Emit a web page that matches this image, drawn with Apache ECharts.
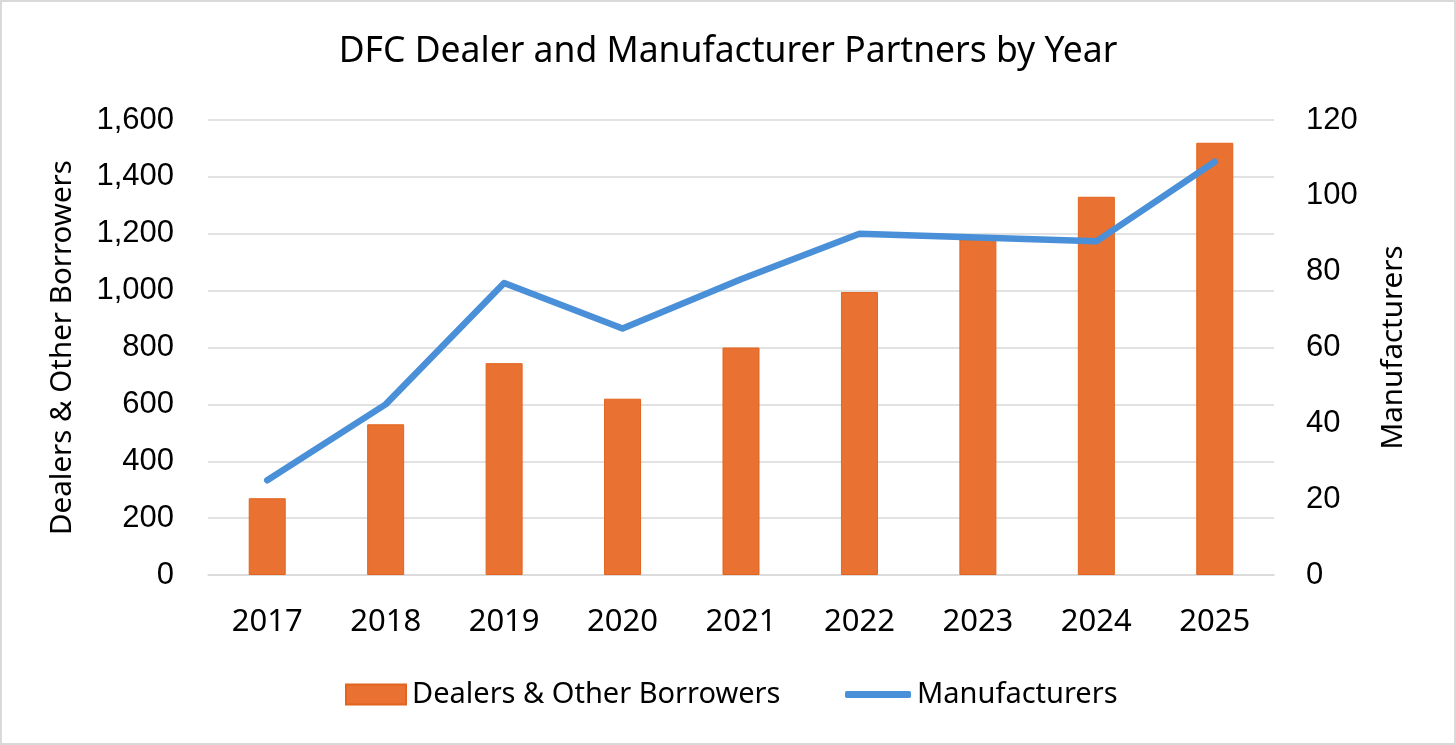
<!DOCTYPE html>
<html>
<head>
<meta charset="utf-8">
<script src="https://cdn.jsdelivr.net/npm/echarts@6/dist/echarts.min.js"></script>
<style>
html,body{margin:0;padding:0;background:#fff;}
#chart{width:1456px;height:745px;box-sizing:border-box;border:2px solid #D9D9D9;}
</style>
</head>
<body>
<div id="chart"></div>
<script>
const categories = ['2017','2018','2019','2020','2021','2022','2023','2024','2025'];
const dealers = [270, 530, 745, 620, 800, 995, 1180, 1330, 1520];
const manufacturers = [25, 45, 77, 65, 78, 90, 89, 88, 109];
const leftTicks = {min: 0, max: 1600, interval: 200};
const rightTicks = {min: 0, max: 120, interval: 20};

const chart = echarts.init(document.getElementById('chart'), null, {renderer: 'canvas'});
const textFont = 'Noto Sans';
const tickFont = 'Liberation Sans';
const legendText = {fontFamily: textFont, fontSize: 29, color: '#000', padding: [0,0,0,1]};
chart.setOption({
  animation: false,
  backgroundColor: '#fff',
  title: {
    text: 'DFC Dealer and Manufacturer Partners by Year',
    left: 'center',
    top: 27,
    textStyle: {fontFamily: textFont, fontSize: 35.5, fontWeight: 'normal', color: '#000'}
  },
  legend: [
    {
      top: 673,
      left: 338,
      itemWidth: 60,
      itemHeight: 20,
      textStyle: legendText,
      data: [{name: 'Dealers & Other Borrowers', icon: 'rect'}]
    },
    {
      top: 673,
      left: 838,
      itemWidth: 66,
      itemHeight: 7,
      textStyle: legendText,
      data: [{name: 'Manufacturers', icon: 'roundRect', itemStyle: {color: '#4A90D9'}}]
    }
  ],
  grid: {left: 206, right: 180, top: 118, bottom: 168, containLabel: false},
  xAxis: {
    type: 'category',
    data: categories,
    axisLine: {show: true, lineStyle: {color: '#D9D9D9', width: 1.5}},
    axisTick: {show: false},
    axisLabel: {fontFamily: textFont, fontSize: 31, color: '#000', margin: 32}
  },
  yAxis: [
    {
      type: 'value',
      min: leftTicks.min, max: leftTicks.max, interval: leftTicks.interval,
      name: 'Dealers & Other Borrowers',
      nameLocation: 'middle',
      nameGap: 130,
      nameTextStyle: {fontFamily: textFont, fontSize: 29.5, color: '#000'},
      axisLine: {show: false},
      axisTick: {show: false},
      splitLine: {lineStyle: {color: '#D9D9D9', width: 1.5}},
      axisLabel: {
        fontFamily: tickFont, fontSize: 31, color: '#000', margin: 34,
        formatter: v => v.toLocaleString('en-US')
      }
    },
    {
      type: 'value',
      min: rightTicks.min, max: rightTicks.max, interval: rightTicks.interval,
      name: 'Manufacturers',
      nameLocation: 'middle',
      nameGap: 105,
      nameTextStyle: {fontFamily: textFont, fontSize: 29.5, color: '#000'},
      axisLine: {show: false},
      axisTick: {show: false},
      splitLine: {show: false},
      axisLabel: {fontFamily: tickFont, fontSize: 31, color: '#000', margin: 32}
    }
  ],
  series: [
    {
      name: 'Dealers & Other Borrowers',
      type: 'bar',
      yAxisIndex: 0,
      data: dealers,
      barWidth: 37,
      itemStyle: {color: '#E97132', borderColor: '#E2641F', borderWidth: 1}
    },
    {
      name: 'Manufacturers',
      type: 'line',
      yAxisIndex: 1,
      data: manufacturers,
      symbol: 'none',
      lineStyle: {color: '#4A90D9', width: 6.5, cap: 'round', join: 'round'},
      itemStyle: {color: '#4A90D9'}
    }
  ]
});
</script>
</body>
</html>
